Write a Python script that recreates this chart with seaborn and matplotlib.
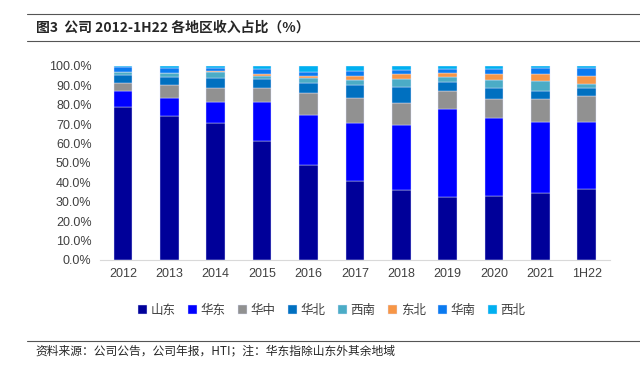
import matplotlib
matplotlib.use('Agg')
import matplotlib.pyplot as plt
from matplotlib.ticker import PercentFormatter
from matplotlib.lines import Line2D
import seaborn as sns
import pandas as pd

years = ['2012', '2013', '2014', '2015', '2016', '2017', '2018', '2019', '2020', '2021', '1H22']
regions = ['山东', '华东', '华中', '华北', '西南', '东北', '华南', '西北']

shandong = [79.0, 74.1, 70.4, 61.5, 48.8, 40.5, 35.9, 32.3, 33.2, 34.4, 36.4]
huadong = [8.3, 9.6, 10.9, 20.1, 26.1, 30.3, 33.7, 45.7, 39.8, 36.6, 34.6]
huazhong = [3.8, 6.3, 7.6, 7.2, 11.2, 12.7, 11.3, 9.1, 10.2, 12.2, 13.5]
huabei = [4.3, 4.3, 5.1, 4.7, 5.1, 6.5, 8.3, 4.9, 5.6, 4.1, 4.3]
xinan = [1.3, 1.9, 2.9, 1.5, 2.4, 2.6, 4.3, 2.5, 3.8, 4.8, 2.1]
dongbei = [0.2, 0.1, 0.3, 0.9, 1.2, 2.2, 2.4, 1.7, 3.1, 3.9, 3.9]
huanan = [2.4, 2.9, 2.0, 2.7, 1.9, 2.6, 1.9, 2.4, 2.8, 2.8, 4.3]
xibei = [0.7, 0.8, 0.8, 1.4, 3.3, 2.6, 2.2, 1.4, 1.5, 1.2, 0.9]

colors = ['#000099', '#0000FF', '#919191', '#0070C0', '#4BACC6', '#F79646', '#0A7AF0', '#00B0F0']

series = [shandong, huadong, huazhong, huabei, xinan, dongbei, huanan, xibei]

sns.set_style('white')
plt.rcParams['font.family'] = ['Noto Sans CJK SC', 'DejaVu Sans']

fig = plt.figure(figsize=(6.4, 3.67), dpi=100)
ax = fig.add_axes([0.156, 0.2916, 0.797, 0.5286])

df = pd.DataFrame({'year': years})
bottom = [0.0] * len(years)
for name, vals, col in zip(regions, series, colors):
    df[name] = vals
    sns.barplot(data=df, x='year', y=name, color=col, width=0.4, bottom=bottom,
                ax=ax, label=name, edgecolor='#dfe6ff', linewidth=0.3, saturation=1)
    bottom = [b + v for b, v in zip(bottom, vals)]

ax.set_ylim(0, 100)
ax.set_xlim(-0.5, len(years) - 0.5)
ax.set_yticks(range(0, 101, 10))
ax.yaxis.set_major_formatter(PercentFormatter(decimals=1))
ax.set_xlabel('')
ax.set_ylabel('')
for s in ['top', 'right', 'left']:
    ax.spines[s].set_visible(False)
ax.spines['bottom'].set_color('#d9d9d9')
ax.tick_params(axis='both', length=0, labelsize=9, colors='#404040', pad=6)
for lbl in ax.get_xticklabels() + ax.get_yticklabels():
    lbl.set_family(['Liberation Sans', 'DejaVu Sans'])

ax.legend(loc='center', bbox_to_anchor=(0.455, -0.26), ncol=8, frameon=False,
          fontsize=9, handlelength=0.7, handleheight=0.7, handletextpad=0.3,
          columnspacing=1.0, labelcolor='#404040')

# header / footer rules
for ypix in [14, 41, 341]:
    fig.add_artist(Line2D([0.042, 1.0], [1 - ypix / 367, 1 - ypix / 367], color='#555555', lw=0.8))
fig.text(0.056, 1 - 28 / 367, '图3  公司 2012-1H22 各地区收入占比（%）', fontsize=10,
         fontweight='bold', va='center', ha='left')
fig.text(0.056, 1 - 351 / 367, '资料来源：公司公告，公司年报，HTI；注：华东指除山东外其余地域', fontsize=8.5,
         va='center', ha='left')

fig.savefig('out.png', dpi=100)
